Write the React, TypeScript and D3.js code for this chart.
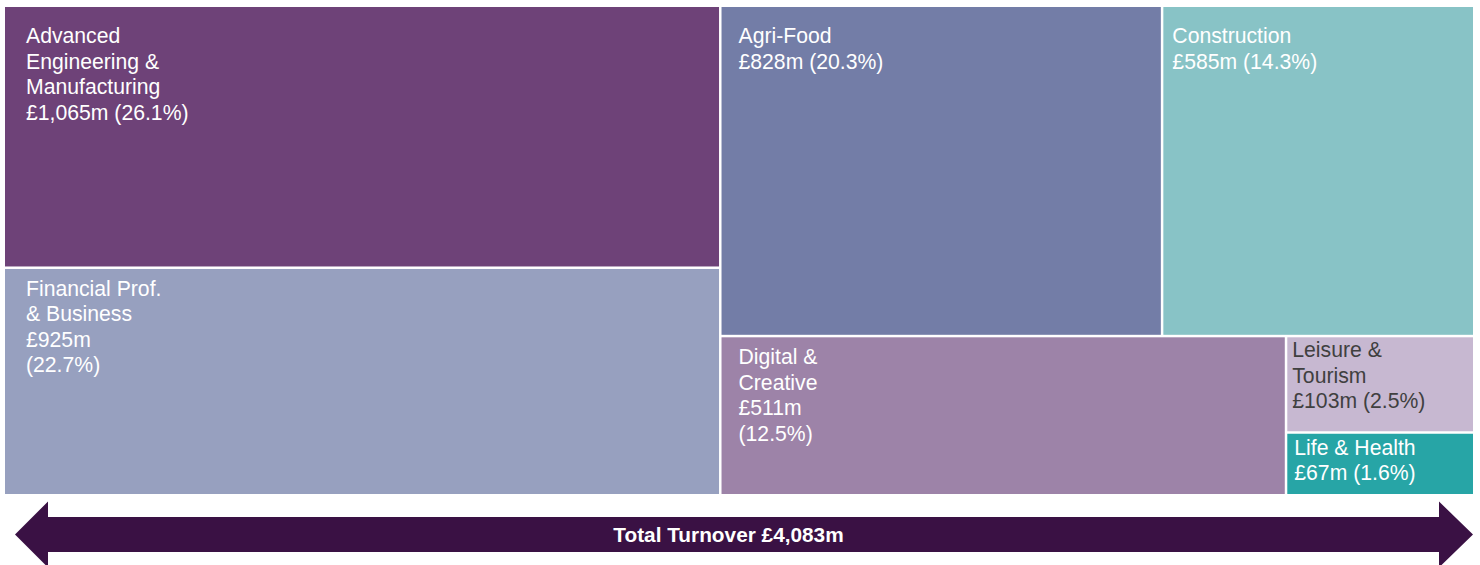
import React from "react";
import * as d3 from "d3";

const sectors = [
  "Advanced Engineering & Manufacturing",
  "Financial Prof. & Business",
  "Agri-Food",
  "Construction",
  "Digital & Creative",
  "Leisure & Tourism",
  "Life & Health",
];
const turnover = [1065, 925, 828, 585, 511, 103, 67];
const sharePct = [26.1, 22.7, 20.3, 14.3, 12.5, 2.5, 1.6];
const nameLines = [
  ["Advanced", "Engineering &", "Manufacturing"],
  ["Financial Prof.", "& Business"],
  ["Agri-Food"],
  ["Construction"],
  ["Digital &", "Creative"],
  ["Leisure &", "Tourism"],
  ["Life & Health"],
];
const splitValueLine = [false, true, false, false, true, false, false];
const totalLabel = "Total Turnover £4,083m";

// styling (not data)
const colors = ["#6e4278", "#97a0bf", "#737da7", "#88c3c6", "#9d83a8", "#c7b8d1", "#27a5a6"];
const textColors = ["#fff", "#fff", "#fff", "#fff", "#fff", "#404040", "#fff"];
const labelDx = [21, 21, 17, 9, 17, 5, 7];
const labelDy = [36, 27, 36, 36, 27, 20, 21];

const W = 1480;
const H = 565;
const X0 = 5, Y0 = 7, X1 = 1473, Y1 = 494;

type Node = { name: string; tile?: "dice" | "slice"; value?: number; idx?: number; children?: Node[] };

const leaf = (i: number): Node => ({ name: sectors[i], value: turnover[i], idx: i });

const tree: Node = {
  name: "root",
  tile: "dice",
  children: [
    { name: "left", tile: "slice", children: [leaf(0), leaf(1)] },
    {
      name: "right",
      tile: "slice",
      children: [
        { name: "rtop", tile: "dice", children: [leaf(2), leaf(3)] },
        {
          name: "rbottom",
          tile: "dice",
          children: [leaf(4), { name: "small", tile: "slice", children: [leaf(5), leaf(6)] }],
        },
      ],
    },
  ],
};

export default function App() {
  const root = d3.hierarchy<Node>(tree).sum((d) => (d.children ? 0 : d.value || 0));
  const layout = d3
    .treemap<Node>()
    .size([X1 - X0, Y1 - Y0])
    .paddingInner(2.5)
    .tile((node: any, x0, y0, x1, y1) => {
      const t = node.data.tile === "dice" ? d3.treemapDice : d3.treemapSlice;
      t(node, x0, y0, x1, y1);
    });
  layout(root);
  const leaves = root.leaves() as d3.HierarchyRectangularNode<Node>[];
  const fmt = d3.format(",");

  const cy = 534.5;
  const headH = 33;
  const shaftH = 17.5;
  const tipL = 15, baseL = 48, baseR = 1439, tipR = 1473;
  const p = d3.path();
  p.moveTo(tipL, cy);
  p.lineTo(baseL, cy - headH);
  p.lineTo(baseL, cy - shaftH);
  p.lineTo(baseR, cy - shaftH);
  p.lineTo(baseR, cy - headH);
  p.lineTo(tipR, cy);
  p.lineTo(baseR, cy + headH);
  p.lineTo(baseR, cy + shaftH);
  p.lineTo(baseL, cy + shaftH);
  p.lineTo(baseL, cy + headH);
  p.closePath();

  return (
    <svg
      width={W}
      height={H}
      style={{ position: "absolute", left: 0, top: 0, display: "block" }}
      fontFamily="'Liberation Sans', Arial, sans-serif"
    >
      <rect x={0} y={0} width={W} height={H} fill="#fff" />
      <g transform={`translate(${X0},${Y0})`}>
        {leaves.map((n) => {
          const i = n.data.idx as number;
          const valueText = `£${fmt(turnover[i])}m`;
          const shareText = `(${sharePct[i]}%)`;
          const lines = splitValueLine[i]
            ? [...nameLines[i], valueText, shareText]
            : [...nameLines[i], `${valueText} ${shareText}`];
          return (
            <g key={n.data.name}>
              <rect x={n.x0} y={n.y0} width={n.x1 - n.x0} height={n.y1 - n.y0} fill={colors[i]} />
              <text x={n.x0 + labelDx[i]} y={n.y0 + labelDy[i]} fontSize={21.2} fill={textColors[i]}>
                {lines.map((l, k) => (
                  <tspan key={k} x={n.x0 + labelDx[i]} dy={k === 0 ? 0 : 25.5}>
                    {l}
                  </tspan>
                ))}
              </text>
            </g>
          );
        })}
      </g>
      <path d={p.toString()} fill="#3a1144" />
      <text x={728.5} y={541.5} textAnchor="middle" fontSize={20.8} fontWeight="bold" fill="#fff">
        {totalLabel}
      </text>
    </svg>
  );
}
